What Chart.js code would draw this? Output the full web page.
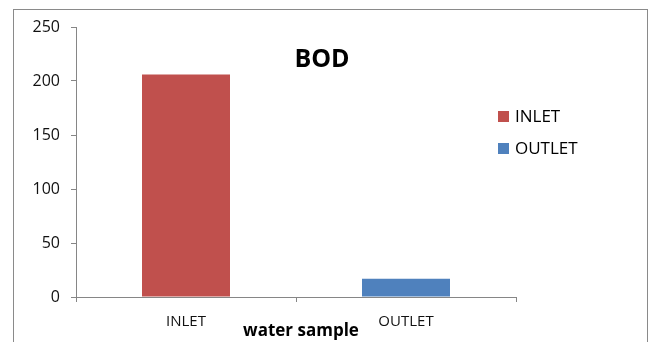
<!DOCTYPE html>
<html>
<head>
<meta charset="utf-8">
<script src="https://cdn.jsdelivr.net/npm/chart.js@4"></script>
<style>
  html, body { margin: 0; padding: 0; background: #fff; }
  #wrap { width: 651px; height: 342px; }
</style>
</head>
<body>
<div id="wrap"><canvas id="bodChart" width="651" height="342"></canvas></div>
<script>
// chart data
const categories = ['INLET', 'OUTLET'];
const bodValues = [206, 17];
const barColors = ['#C0504D', '#4F81BD'];
const yTicks = [0, 50, 100, 150, 200, 250];
const chartTitle = 'BOD';
const xTitle = 'water sample';

const FONT = '"Open Sans", "Liberation Sans", sans-serif';
const AXIS_GREY = '#868686';

// outer frame, title, axis title and legend drawn on the canvas
const decorations = {
    id: 'decorations',
    beforeDraw(chart) {
        const ctx = chart.ctx;
        ctx.save();
        ctx.strokeStyle = '#8a8a8a';
        ctx.lineWidth = 1;
        ctx.strokeRect(13.5, 9.5, 634, 400);
        ctx.restore();
    },
    afterDraw(chart) {
        const ctx = chart.ctx;
        const area = chart.chartArea;
        ctx.save();
        ctx.fillStyle = '#000';
        ctx.textAlign = 'center';
        ctx.textBaseline = 'middle';
        ctx.font = 'bold 25px ' + FONT;
        ctx.fillText(chartTitle, 322, 60);

        ctx.font = 'bold 17px ' + FONT;
        ctx.fillText(xTitle, (area.left + area.right) / 2 + 5, 331);

        // legend
        ctx.textAlign = 'left';
        ctx.font = '17px ' + FONT;
        categories.forEach((name, i) => {
            const y = 116 + i * 32;
            ctx.fillStyle = barColors[i];
            ctx.fillRect(498, y - 5, 11, 11);
            ctx.fillStyle = '#000';
            ctx.fillText(name, 515, y + 1);
        });
        ctx.restore();
    }
};

const ctx = document.getElementById('bodChart').getContext('2d');
const bodChart = new Chart(ctx, {
    type: 'bar',
    data: {
        labels: categories,
        datasets: [{
            label: chartTitle,
            data: bodValues,
            backgroundColor: barColors,
            borderWidth: 0,
            barPercentage: 0.4,
            categoryPercentage: 1.0
        }]
    },
    options: {
        responsive: false,
        animation: false,
        layout: {
            padding: { left: 0, right: 135, top: 27, bottom: 0 }
        },
        scales: {
            x: {
                afterFit: scale => { scale.height = 45; },
                grid: {
                    display: true,
                    drawOnChartArea: false,
                    offset: true,
                    tickLength: 5,
                    color: AXIS_GREY
                },
                border: { color: AXIS_GREY },
                ticks: {
                    color: '#111',
                    font: { family: FONT, size: 15 },
                    padding: 11
                }
            },
            y: {
                min: 0,
                max: 250,
                afterFit: scale => { scale.width = 76; },
                afterBuildTicks: scale => { scale.ticks = yTicks.map(v => ({ value: v })); },
                grid: {
                    display: true,
                    drawOnChartArea: false,
                    tickLength: 5,
                    color: AXIS_GREY
                },
                border: { color: AXIS_GREY },
                ticks: {
                    color: '#111',
                    font: { family: FONT, size: 16 },
                    padding: 11
                }
            }
        },
        plugins: {
            legend: { display: false },
            title: { display: false },
            tooltip: { enabled: false }
        }
    },
    plugins: [decorations]
});
</script>
</body>
</html>
